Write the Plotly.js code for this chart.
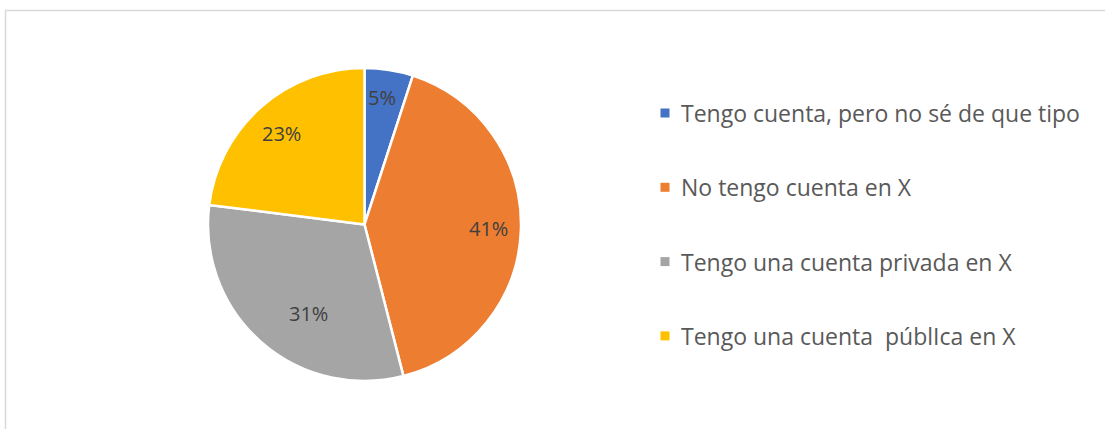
<!DOCTYPE html>
<html>
<head>
<meta charset="utf-8">
<script src="https://cdn.plot.ly/plotly-3.0.1.min.js"></script>
<style>html,body{margin:0;padding:0;background:#fff;}#chart{width:1105px;height:429px;}</style>
</head>
<body>
<div id="chart"></div>
<script>
const labels = ["Tengo cuenta, pero no sé de que tipo", "No tengo cuenta en X", "Tengo una cuenta privada en X", "Tengo una cuenta  públIca en X"];
const values = [5, 41, 31, 23];
const colors = ["#4472C4", "#ED7D31", "#A5A5A5", "#FFC000"];

const W = 1105, H = 429;
const cx = 364.5, cy = 224.5, R = 156.5;
const legendX = 679, legendY0 = 113, legendStep = 74.3;
// label placement (radial fraction and angle nudge, degrees) per slice
const labelFrac = [0.82, 0.795, 0.67, 0.79];
const labelShift = [-1, 0, -9, -1];

const total = values.reduce((a, b) => a + b, 0);
let cum = 0;
const annotations = [];
values.forEach((v, i) => {
  const mid = (cum + v / 2) / total * 360 + labelShift[i];
  cum += v;
  const a = mid * Math.PI / 180;
  const r = R * labelFrac[i];
  annotations.push({
    xref: 'paper', yref: 'paper',
    x: (cx + r * Math.sin(a)) / W, y: 1 - (cy - r * Math.cos(a)) / H,
    xanchor: 'center', yanchor: 'middle', showarrow: false,
    text: Math.round(v / total * 100) + '%',
    font: {family: 'Open Sans, sans-serif', size: 20, color: '#404040'}
  });
});
labels.forEach((t, i) => annotations.push({
  xref: 'paper', yref: 'paper',
  x: legendX / W, y: 1 - (legendY0 + i * legendStep) / H,
  xanchor: 'left', yanchor: 'middle',
  text: t.replace(/  /g, '&nbsp; '), showarrow: false,
  font: {family: 'Open Sans, sans-serif', size: 23, color: '#595959'}
}));
const shapes = labels.map((t, i) => {
  const y = legendY0 + i * legendStep;
  return {type: 'rect', xref: 'paper', yref: 'paper',
    x0: 660.5 / W, x1: 669.5 / W, y0: 1 - (y - 4.5) / H, y1: 1 - (y + 4.5) / H,
    fillcolor: colors[i], line: {width: 0}};
});
shapes.push({type: 'rect', xref: 'paper', yref: 'paper',
  x0: 5.5 / W, x1: 1.2, y0: -0.2, y1: 1 - 10.5 / H,
  line: {color: '#D9D9D9', width: 1.5}, fillcolor: 'rgba(0,0,0,0)', layer: 'below'});

const trace = {
  type: 'pie', labels: labels, values: values, sort: false,
  direction: 'clockwise', rotation: 0,
  marker: {colors: colors, line: {color: '#FFFFFF', width: 2.5}},
  textinfo: 'none',
  domain: {x: [(cx - R) / W, (cx + R) / W], y: [1 - (cy + R) / H, 1 - (cy - R) / H]},
  showlegend: false, hoverinfo: 'label+percent'
};

Plotly.newPlot('chart', [trace], {
  width: W, height: H,
  margin: {l: 0, r: 0, t: 0, b: 0},
  paper_bgcolor: '#FFFFFF',
  annotations: annotations, shapes: shapes
}, {displayModeBar: false, staticPlot: true});
</script>
</body>
</html>
